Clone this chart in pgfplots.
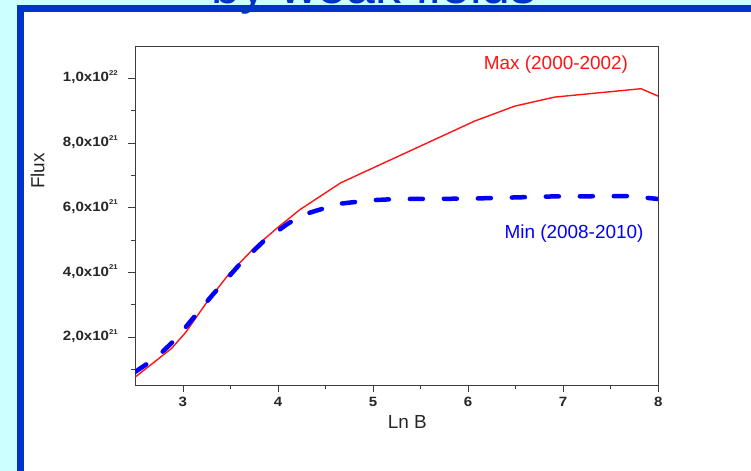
\documentclass[border=0pt]{standalone}
\usepackage{fontspec}
\setmainfont{Liberation Sans}
\usepackage{pgfplots}
\pgfplotsset{compat=1.18}

\definecolor{slidecyan}{RGB}{204,255,255}
\definecolor{slideblue}{RGB}{0,51,204}
\definecolor{maxred}{RGB}{255,20,20}
\definecolor{minblue}{RGB}{0,0,255}
\definecolor{axisgray}{RGB}{60,60,60}

% small raised exponent for the flux tick labels
\newcommand\fluxexp[1]{\raisebox{6.5bp}{\fontsize{7}{7}\selectfont #1}}

\begin{document}
\begin{tikzpicture}
\useasboundingbox (0bp,0bp) rectangle (751bp,471bp);
% slide frame
\fill[slidecyan] (0bp,0bp) rectangle (751bp,471bp);
\fill[white] (24bp,0bp) rectangle (751bp,459bp);
\fill[slideblue] (17bp,0bp) rectangle (24bp,466bp);
\fill[slideblue] (17bp,459bp) rectangle (751bp,466bp);
\begin{scope}
  \clip (0bp,0bp) rectangle (751bp,471bp);
  \node[anchor=base west, inner sep=0pt, text=slideblue,
        font=\fontsize{52}{52}\selectfont] at (211bp,467bp) {by weak fields};
\end{scope}

\begin{axis}[
  at={(135.4bp,86bp)}, anchor=south west,
  scale only axis, width=522.8bp, height=339bp,
  xmin=2.5, xmax=8, ymin=0.52, ymax=11,
  axis line style={axisgray, line width=0.8bp},
  xtick={3,4,5,6,7,8}, xticklabels={3,4,5,6,7,8},
  minor xtick={3.5,4.5,5.5,6.5,7.5},
  ytick={2,4,6,8,10},
  yticklabels={{2,0x10\fluxexp{21}},{4,0x10\fluxexp{21}},{6,0x10\fluxexp{21}},{8,0x10\fluxexp{21}},{1,0x10\fluxexp{22}}},
  minor ytick={1,3,5,7,9},
  tick align=outside, tick pos=left,
  major tick length=7bp, minor tick length=4bp,
  every tick/.style={axisgray, line width=0.8bp},
  ticklabel style={font=\fontsize{13.5}{13.5}\selectfont\bfseries,
                   text=black!85, xscale=1.12},
  yticklabel style={xshift=-6bp, yshift=1bp},
  xticklabel style={yshift=-2bp},
  xlabel={Ln B}, ylabel={Flux},
  label style={font=\fontsize{19}{19}\selectfont, text=black!85},
  xlabel style={at={(axis description cs:0.52,-0.109)}, anchor=center},
  ylabel style={at={(axis description cs:-0.187,0.631)}, anchor=center},
]
% solar maximum, 2000-2002
\addplot[maxred, line width=1.4bp] coordinates {
  (2.5,0.77) (2.88,1.65) (3.03,2.15) (3.24,3.03) (3.47,3.90)
  (3.75,4.76) (3.99,5.37) (4.23,5.94) (4.66,6.77) (6.07,8.68)
  (6.49,9.14) (6.91,9.42) (7.82,9.68) (8.0,9.45)};
% solar minimum, 2008-2010
\addplot[minblue, line width=4.5bp, line cap=round,
         dash pattern=on 13bp off 21bp] coordinates {
  (2.5,0.93) (2.73,1.39) (2.93,1.96) (3.31,3.30) (3.60,4.26)
  (3.85,4.97) (4.10,5.50) (4.26,5.78) (4.46,5.96) (4.61,6.11)
  (4.97,6.23) (5.25,6.27) (6.0,6.28) (6.9,6.35) (7.7,6.36) (8.0,6.27)};

\node[text=maxred, font=\fontsize{19}{19}\selectfont]
  at (rel axis cs:0.8045,0.944) {Max (2000-2002)};
\node[text=minblue, font=\fontsize{19}{19}\selectfont]
  at (rel axis cs:0.839,0.448) {Min (2008-2010)};
\end{axis}
\end{tikzpicture}
\end{document}
